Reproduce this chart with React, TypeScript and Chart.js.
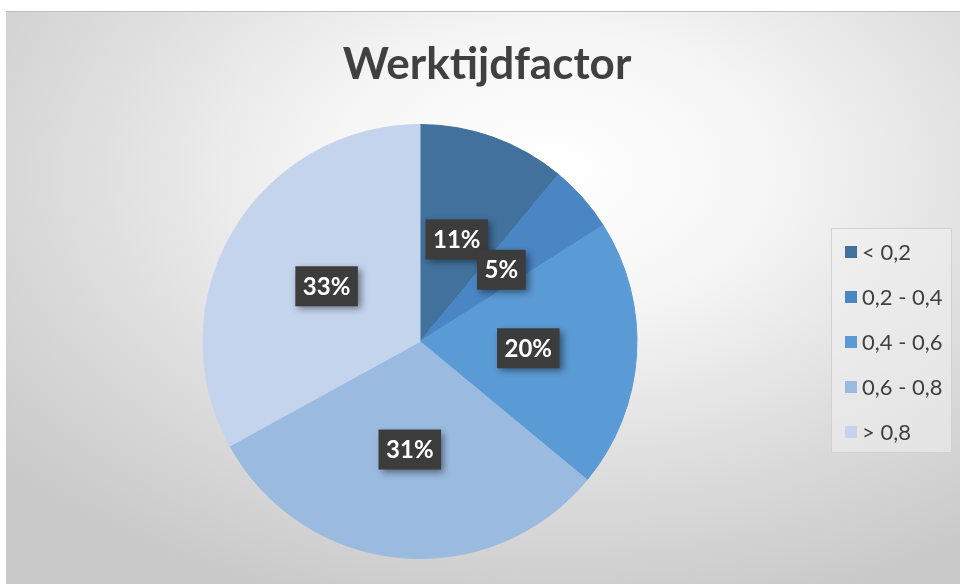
import React, { useEffect, useRef } from 'react';
import { Chart, registerables } from 'chart.js';

Chart.register(...registerables);

const TITLE = 'Werktijdfactor';
const categories = ['< 0,2', '0,2 - 0,4', '0,4 - 0,6', '0,6 - 0,8', '> 0,8'];
const values = [11, 5, 20, 31, 33];
const colors = ['#41719c', '#4a86c4', '#5b9bd5', '#9abae0', '#c3d4ec'];

const W = 954;
const H = 573;

const overlayPlugin = {
  id: 'overlay',
  afterDatasetsDraw(chart: any) {
    const ctx = chart.ctx as CanvasRenderingContext2D;
    const meta = chart.getDatasetMeta(0);
    const data = chart.data.datasets[0].data as number[];
    const total = data.reduce((a, b) => a + b, 0);
    ctx.save();
    ctx.font = 'bold 24px Lato';
    meta.data.forEach((arc: any, i: number) => {
      const p = arc.getProps(['x', 'y', 'startAngle', 'endAngle', 'outerRadius'], true);
      const mid = (p.startAngle + p.endAngle) / 2;
      const cx = p.x + Math.cos(mid) * p.outerRadius * 0.5;
      const cy = p.y + Math.sin(mid) * p.outerRadius * 0.5;
      const txt = Math.round((data[i] / total) * 100) + '%';
      const tw = ctx.measureText(txt).width;
      const bw = tw + 15;
      const bh = 40;
      ctx.save();
      ctx.shadowColor = 'rgba(0,0,0,0.45)';
      ctx.shadowBlur = 7;
      ctx.shadowOffsetX = 3;
      ctx.shadowOffsetY = 3;
      ctx.fillStyle = '#3c3c3c';
      ctx.fillRect(cx - bw / 2, cy - bh / 2, bw, bh);
      ctx.restore();
      ctx.fillStyle = '#ffffff';
      ctx.textAlign = 'center';
      ctx.textBaseline = 'middle';
      ctx.fillText(txt, cx, cy + 1);
    });
    ctx.restore();
  },
  afterDraw(chart: any) {
    const ctx = chart.ctx as CanvasRenderingContext2D;
    ctx.save();
    // title
    ctx.fillStyle = '#404040';
    ctx.font = 'bold 44px Lato';
    ctx.textAlign = 'center';
    ctx.textBaseline = 'alphabetic';
    ctx.fillText(TITLE, 481, 68);
    // legend
    const lx = 825, ly = 217, lw = 121, lh = 225;
    ctx.fillStyle = 'rgba(240,240,240,0.55)';
    ctx.fillRect(lx, ly, lw, lh);
    ctx.strokeStyle = '#d2d2d2';
    ctx.lineWidth = 1;
    ctx.strokeRect(lx + 0.5, ly + 0.5, lw - 1, lh - 1);
    const labels = chart.data.labels as string[];
    const bgs = chart.data.datasets[0].backgroundColor as string[];
    ctx.font = '22px Lato';
    ctx.textAlign = 'left';
    ctx.textBaseline = 'middle';
    labels.forEach((lab, i) => {
      const y = 241 + i * 45;
      ctx.fillStyle = bgs[i];
      ctx.fillRect(839, y - 6, 12, 12);
      ctx.fillStyle = '#404040';
      ctx.fillText(lab, 856, y + 1);
    });
    ctx.restore();
  },
};

export default function App() {
  const ref = useRef<HTMLCanvasElement>(null);
  useEffect(() => {
    if (!ref.current) return;
    const chart = new Chart(ref.current, {
      type: 'pie',
      data: {
        labels: categories,
        datasets: [
          {
            data: values,
            backgroundColor: colors,
            borderColor: colors,
            borderWidth: 1,
          },
        ],
      },
      options: {
        responsive: false,
        animation: false,
        events: [],
        layout: { padding: { left: 196.5, right: 322.5, top: 113, bottom: 25 } },
        plugins: {
          legend: { display: false },
          title: { display: false },
          tooltip: { enabled: false },
        },
      },
      plugins: [overlayPlugin],
    });
    return () => chart.destroy();
  }, []);
  return (
    <div
      style={{
        position: 'absolute',
        left: 6,
        top: 11,
        width: W,
        height: H,
        background:
          'radial-gradient(ellipse 75% 80% at 57% 28%, #ffffff 0%, #f6f6f6 30%, #dedede 65%, #c9c9c9 100%)',
        boxShadow: 'inset 0 1px 0 #bdbdbd',
      }}
    >
      <canvas ref={ref} width={W} height={H} style={{ display: 'block', width: W, height: H }} />
    </div>
  );
}
